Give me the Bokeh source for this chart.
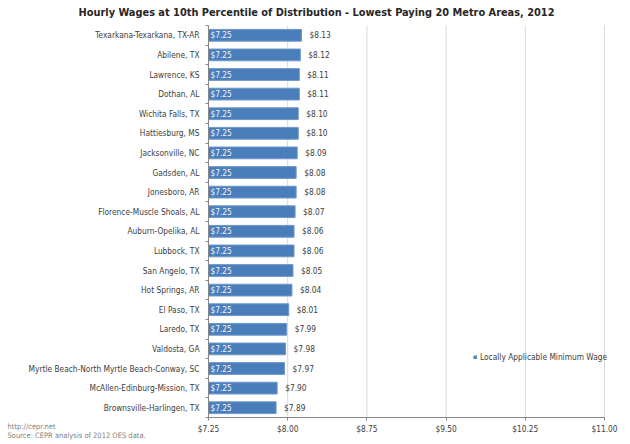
from bokeh.plotting import figure
from bokeh.models import (Range1d, FixedTicker, NumeralTickFormatter, Label,
                          Legend, LegendItem, ColumnDataSource)
from bokeh.embed import file_html
from bokeh.resources import INLINE

title_text = "Hourly Wages at 10th Percentile of Distribution - Lowest Paying 20 Metro Areas, 2012"
metros = [
    "Texarkana-Texarkana, TX-AR", "Abilene, TX", "Lawrence, KS", "Dothan, AL",
    "Wichita Falls, TX", "Hattiesburg, MS", "Jacksonville, NC", "Gadsden, AL",
    "Jonesboro, AR", "Florence-Muscle Shoals, AL", "Auburn-Opelika, AL",
    "Lubbock, TX", "San Angelo, TX", "Hot Springs, AR", "El Paso, TX",
    "Laredo, TX", "Valdosta, GA", "Myrtle Beach-North Myrtle Beach-Conway, SC",
    "McAllen-Edinburg-Mission, TX", "Brownsville-Harlingen, TX",
]
wage_10th = [8.13, 8.12, 8.11, 8.11, 8.10, 8.10, 8.09, 8.08, 8.08, 8.07,
             8.06, 8.06, 8.05, 8.04, 8.01, 7.99, 7.98, 7.97, 7.90, 7.89]
min_wage = [7.25] * 20
x_ticks = [7.25, 8.00, 8.75, 9.50, 10.25, 11.00]
legend_label = "Locally Applicable Minimum Wage"
footer1 = "http://cepr.net"
footer2 = "Source: CEPR analysis of 2012 OES data."

# ---- layout (pixels) ----
W, H = 630, 444
PLOT_L, PLOT_R = 208, 604      # x pixel of first / last x tick
PLOT_T, PLOT_B = 25, 417       # y pixel of top / bottom of the bar area

FONT = "DejaVu Sans Condensed"
FS = "8.3px"
TXT = "#404040"
n = len(metros)
ypos = list(range(n))

# whole canvas is the frame; axes are pinned inside it
xpx = (PLOT_R - PLOT_L) / (x_ticks[-1] - x_ticks[0])
ypx = (PLOT_B - PLOT_T) / n
x0 = x_ticks[0] - PLOT_L / xpx
x1 = x_ticks[-1] + (W - PLOT_R) / xpx
y_top = -0.5 - PLOT_T / ypx
y_bot = (n - 0.5) + (H - PLOT_B) / ypx

src = ColumnDataSource(dict(
    y=ypos, metro=metros, wage=wage_10th, mw=min_wage,
    wage_lbl=["$%.2f" % v for v in wage_10th],
    mw_lbl=["$%.2f" % v for v in min_wage],
))

p = figure(width=W, height=H, output_backend="svg", toolbar_location=None,
           x_range=Range1d(x0, x1), y_range=Range1d(y_bot, y_top),
           min_border=0)
p.title.visible = False
p.outline_line_color = None
p.background_fill_color = "white"
p.border_fill_color = "white"

# vertical grid lines, only across the bar area
p.segment(x0=x_ticks[1:], x1=x_ticks[1:], y0=-0.5, y1=n - 0.5,
          line_color="#d9d9d9", line_width=1)

bars = p.hbar(y="y", left="mw", right="wage", height=0.6, source=src,
              fill_color="#4a7ebb", line_color="#6f97c8", line_width=1)

p.text(x="wage", y="y", text="wage_lbl", source=src, x_offset=8,
       text_baseline="middle", text_align="left", text_font_size=FS,
       text_color=TXT, text_font={"value": FONT})
p.text(x="mw", y="y", text="mw_lbl", source=src, x_offset=2,
       text_baseline="middle", text_align="left", text_font_size=FS,
       text_color="#eef3fa", text_font={"value": FONT})

# x axis
p.xaxis.fixed_location = n - 0.5
p.xaxis.bounds = (x_ticks[0], x_ticks[-1])
p.xaxis.ticker = FixedTicker(ticks=x_ticks)
p.xaxis.formatter = NumeralTickFormatter(format="$0.00")
p.xaxis.major_label_text_font = FONT
p.xaxis.major_label_text_font_size = FS
p.xaxis.major_label_text_color = TXT
p.xaxis.axis_line_color = "#868686"
p.xaxis.major_tick_line_color = "#868686"
p.xaxis.major_tick_in = 0
p.xaxis.major_tick_out = 3
p.xaxis.minor_tick_line_color = None
p.xaxis.major_label_standoff = 3

# y axis
p.yaxis.fixed_location = x_ticks[0]
p.yaxis.bounds = (-0.5, n - 0.5)
p.yaxis.ticker = FixedTicker(ticks=ypos, minor_ticks=[i - 0.5 for i in range(n + 1)])
p.yaxis.major_label_overrides = {i: m for i, m in zip(ypos, metros)}
p.yaxis.major_label_text_font = FONT
p.yaxis.major_label_text_font_size = FS
p.yaxis.major_label_text_color = TXT
p.yaxis.axis_line_color = "#868686"
p.yaxis.major_tick_line_color = None
p.yaxis.major_tick_in = 0
p.yaxis.major_tick_out = 0
p.yaxis.minor_tick_line_color = "#868686"
p.yaxis.minor_tick_in = 0
p.yaxis.minor_tick_out = 3
p.yaxis.major_label_standoff = 6

p.xgrid.grid_line_color = None
p.ygrid.grid_line_color = None

legend = Legend(items=[LegendItem(label=legend_label, renderers=[bars])],
                location=(473, 82), glyph_width=4, glyph_height=4,
                label_text_font=FONT, label_text_font_size=FS,
                label_text_color=TXT, background_fill_alpha=0,
                border_line_alpha=0, padding=0, margin=0, label_standoff=3,
                label_height=8)
p.add_layout(legend)

p.add_layout(Label(x=316, y=H - 12, x_units="screen", y_units="screen",
                   text=title_text, text_align="center", text_baseline="middle",
                   text_font=FONT, text_font_style="bold", text_font_size="10.9px",
                   text_color="#262626"))
p.add_layout(Label(x=7, y=H - 426, x_units="screen", y_units="screen",
                   text=footer1, text_align="left", text_baseline="middle",
                   text_font=FONT, text_font_size="7.5px", text_color="#7f7f7f"))
p.add_layout(Label(x=7, y=H - 435, x_units="screen", y_units="screen",
                   text=footer2, text_align="left", text_baseline="middle",
                   text_font=FONT, text_font_size="7.5px", text_color="#7f7f7f"))

open("out.html", "w").write(file_html(p, INLINE))
